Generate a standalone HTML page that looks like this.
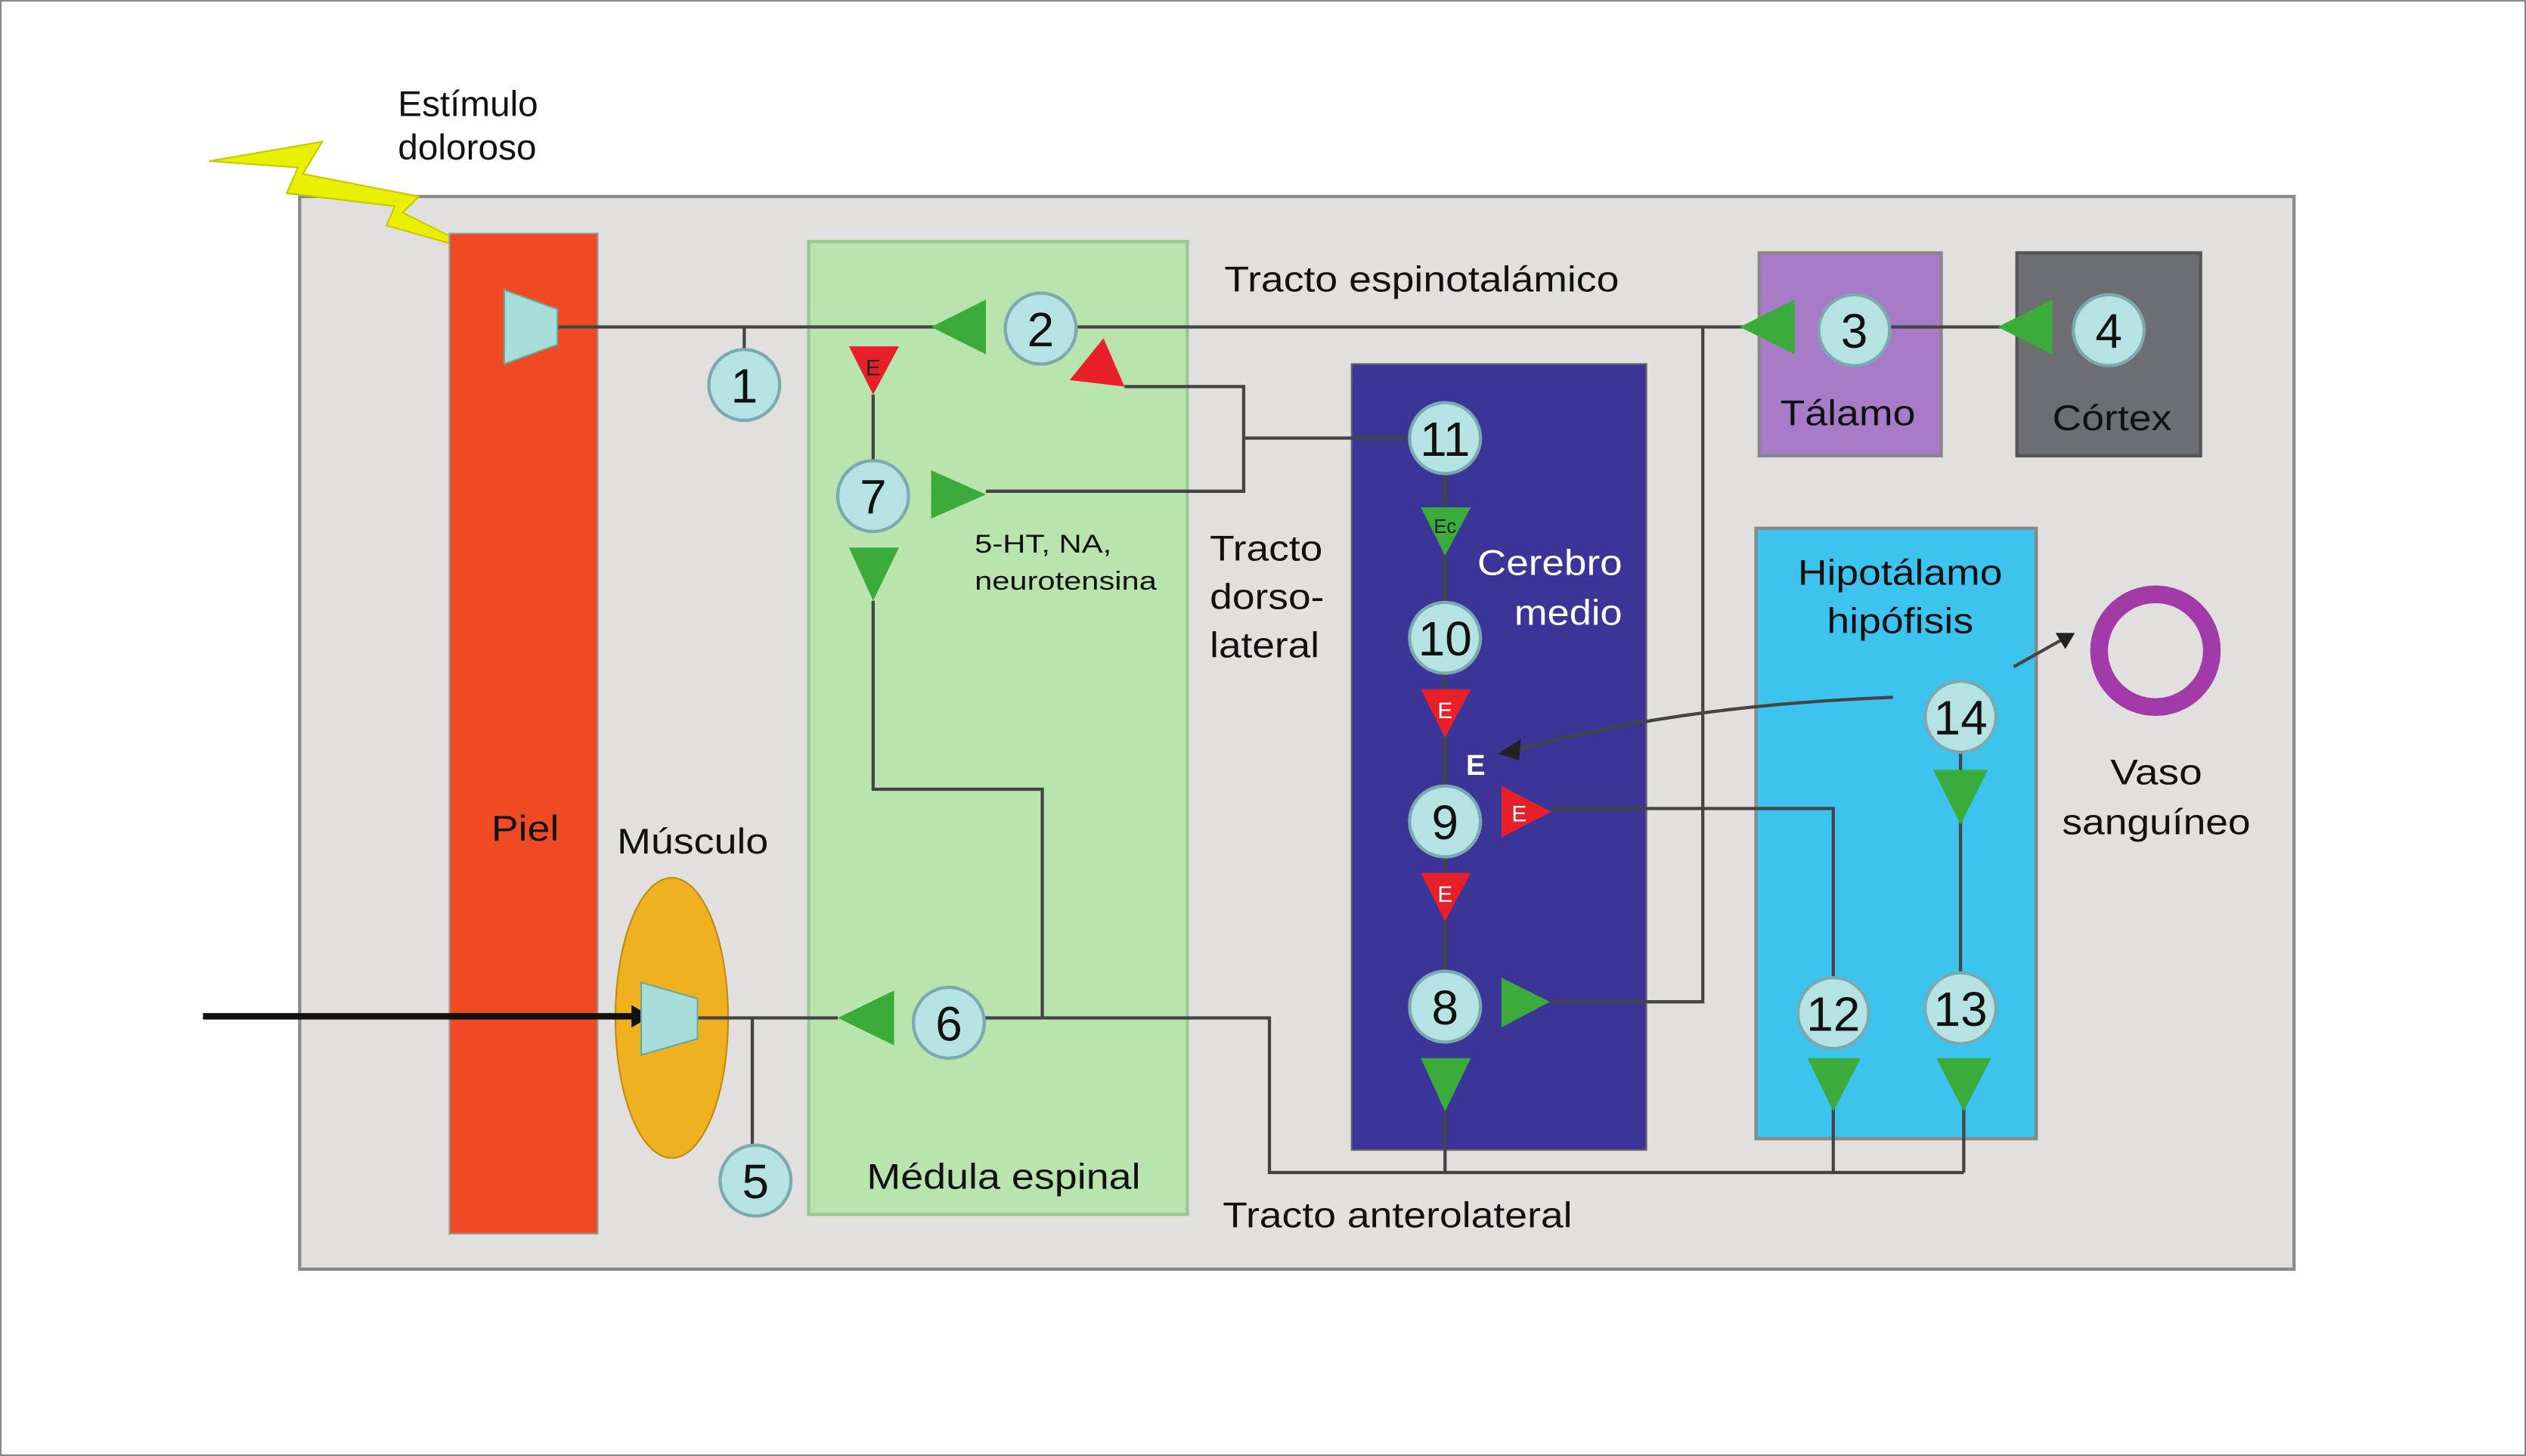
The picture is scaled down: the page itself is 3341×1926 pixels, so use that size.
<!DOCTYPE html>
<html><head><meta charset="utf-8"><style>
html,body{margin:0;padding:0;background:#fff;}
svg{display:block;}
text{font-family:"Liberation Sans",sans-serif;}
</style></head><body>
<svg width="3341" height="1926" viewBox="0 0 1568 904" preserveAspectRatio="none" xmlns="http://www.w3.org/2000/svg">
<rect x="0.5" y="0.5" width="1567" height="903" fill="#fff" stroke="#888" stroke-width="1"/>
<rect x="186" y="122" width="1238" height="666" fill="#e2e0de" stroke="#8a8a8a" stroke-width="2"/>
<polygon points="130,100 200,88 188,108 260,122 250,132 300,157 240,140 245,128 178,120 185,104" fill="#e8f000" stroke="#c8c800" stroke-width="1"/>
<rect x="279" y="145" width="92" height="621" fill="#f04a24" stroke="#999" stroke-width="1"/>
<rect x="502" y="150" width="235" height="604" fill="#b9e4ad" stroke="#98c890" stroke-width="2"/>
<rect x="839" y="226" width="183" height="488" fill="#3a3597" stroke="#666" stroke-width="1"/>
<rect x="1092" y="157" width="113" height="126" fill="#a77bc7" stroke="#888" stroke-width="2"/>
<rect x="1252" y="157" width="114" height="126" fill="#6d6e71" stroke="#555" stroke-width="2"/>
<rect x="1090" y="328" width="174" height="379" fill="#3cc3ee" stroke="#888" stroke-width="2"/>
<circle cx="1338" cy="404" r="35" fill="none" stroke="#a23aa8" stroke-width="11"/>
<ellipse cx="417" cy="632" rx="35" ry="87" fill="#f0b121" stroke="#c08a10" stroke-width="1"/>
<g stroke="#444" stroke-width="2" fill="none">
<polyline points="346,203 590,203"/>
<line x1="462" y1="203" x2="462" y2="217"/>
<polyline points="668,203 1090,203"/>
<polyline points="1172,203 1250,203"/>
<polyline points="698,240 772,240 772,305 612,305"/>
<line x1="772" y1="272" x2="875" y2="272"/>
<line x1="542" y1="245" x2="542" y2="286"/>
<polyline points="542,373 542,490 647,490 647,632"/>
<polyline points="433,632 520,632"/>
<polyline points="611,632 788,632 788,728 1219,728"/>
<line x1="467" y1="632" x2="467" y2="711"/>
<line x1="897" y1="688" x2="897" y2="728"/>
<line x1="1138" y1="688" x2="1138" y2="728"/>
<line x1="1219" y1="688" x2="1219" y2="728"/>
<polyline points="962,622 1057,622 1057,203"/>
<polyline points="963,502 1138,502 1138,607"/>
<line x1="897" y1="294" x2="897" y2="374"/>
<line x1="897" y1="418" x2="897" y2="488"/>
<line x1="897" y1="532" x2="897" y2="603"/>
<line x1="1217" y1="467" x2="1217" y2="604"/>
<path d="M1175,433 Q1040,438 940,466"/>
<line x1="1250" y1="414" x2="1282" y2="396"/>
</g>
<line x1="126" y1="631" x2="395" y2="631" stroke="#111" stroke-width="4"/>
<polygon points="392,624 404,631 392,638" fill="#111"/>
<polygon points="930,468 944,459 943,472" fill="#222"/>
<polygon points="1288,393 1276,393 1282,403" fill="#222"/>
<polygon points="313,180 346,192 346,214 313,226" fill="#a8dcd8" stroke="#6a9" stroke-width="1"/>
<polygon points="398,610 433,620 433,645 398,655" fill="#a8dcd8" stroke="#6a9" stroke-width="1"/>
<g fill="#3bab3b">
<polygon points="578,203 612,186 612,220"/>
<polygon points="1080,203 1114,186 1114,220"/>
<polygon points="1240,203 1274,186 1274,220"/>
<polygon points="578,292 612,307 578,322"/>
<polygon points="520,632 555,615 555,649"/>
<polygon points="527,340 558,340 542,373"/>
<polygon points="882,315 913,315 897,345"/>
<polygon points="882,657 913,657 897,690"/>
<polygon points="1122,657 1155,657 1138,690"/>
<polygon points="1202,657 1236,657 1219,690"/>
<polygon points="1200,478 1234,478 1217,512"/>
<polygon points="932,607 962,622 932,638"/>
</g>
<g fill="#e8202a">
<polygon points="664,236 685,210 698,240"/>
<polygon points="527,215 558,215 542,245"/>
<polygon points="882,428 913,428 897,458"/>
<polygon points="882,542 913,542 897,572"/>
<polygon points="932,488 963,504 932,520"/>
</g>
<g font-size="14" fill="#fff" text-anchor="middle">
<text x="542" y="233" fill="#222">E</text>
<text x="897" y="446">E</text>
<text x="897" y="560">E</text>
<text x="943" y="510">E</text>
<text x="897" y="331" font-size="12" fill="#222">Ec</text>
<text x="916" y="481" font-size="18" font-weight="bold">E</text>
</g>
<g fill="#b5e3e3" stroke="#7aaab0" stroke-width="2">
<circle cx="462" cy="239" r="22"/><circle cx="646" cy="204" r="22"/>
<circle cx="1151" cy="205" r="22"/><circle cx="1309" cy="205" r="22"/>
<circle cx="469" cy="733" r="22"/><circle cx="589" cy="635" r="22"/>
<circle cx="542" cy="308" r="22"/><circle cx="897" cy="625" r="22"/>
<circle cx="897" cy="510" r="22"/><circle cx="897" cy="396" r="22"/>
<circle cx="897" cy="272" r="22"/><circle cx="1138" cy="629" r="22"/>
<circle cx="1217" cy="626" r="22"/><circle cx="1217" cy="445" r="22"/>
</g>
<g font-size="30" fill="#111" text-anchor="middle">
<text x="462" y="250">1</text><text x="646" y="215">2</text>
<text x="1151" y="216">3</text><text x="1309" y="216">4</text>
<text x="469" y="744">5</text><text x="589" y="646">6</text>
<text x="542" y="319">7</text><text x="897" y="636">8</text>
<text x="897" y="521">9</text><text x="897" y="407">10</text>
<text x="897" y="283">11</text><text x="1138" y="640">12</text>
<text x="1217" y="637">13</text><text x="1217" y="456">14</text>
</g>
<g font-size="22" fill="#111">
<text x="247" y="72" textLength="87" lengthAdjust="spacingAndGlyphs">Estímulo</text>
<text x="247" y="99" textLength="86" lengthAdjust="spacingAndGlyphs">doloroso</text>
<text x="760" y="181" textLength="245" lengthAdjust="spacingAndGlyphs">Tracto espinotalámico</text>
<text x="751" y="348" textLength="70" lengthAdjust="spacingAndGlyphs">Tracto</text>
<text x="751" y="378" textLength="71" lengthAdjust="spacingAndGlyphs">dorso-</text>
<text x="751" y="408" textLength="68" lengthAdjust="spacingAndGlyphs">lateral</text>
<text x="305" y="522" textLength="42" lengthAdjust="spacingAndGlyphs">Piel</text>
<text x="383" y="530" textLength="94" lengthAdjust="spacingAndGlyphs">Músculo</text>
<text x="538" y="738" textLength="170" lengthAdjust="spacingAndGlyphs">Médula espinal</text>
<text x="759" y="762" textLength="217" lengthAdjust="spacingAndGlyphs">Tracto anterolateral</text>
<text x="1105" y="264" textLength="84" lengthAdjust="spacingAndGlyphs">Tálamo</text>
<text x="1274" y="267" textLength="74" lengthAdjust="spacingAndGlyphs">Córtex</text>
<text x="1116" y="363" textLength="127" lengthAdjust="spacingAndGlyphs">Hipotálamo</text>
<text x="1134" y="393" textLength="91" lengthAdjust="spacingAndGlyphs">hipófisis</text>
<text x="1310" y="487" textLength="57" lengthAdjust="spacingAndGlyphs">Vaso</text>
<text x="1280" y="518" textLength="117" lengthAdjust="spacingAndGlyphs">sanguíneo</text>
<text x="917" y="357" fill="#fff" textLength="90" lengthAdjust="spacingAndGlyphs">Cerebro</text>
<text x="940" y="388" fill="#fff" textLength="67" lengthAdjust="spacingAndGlyphs">medio</text>
</g>
<g font-size="16" fill="#111">
<text x="605" y="343" textLength="85" lengthAdjust="spacingAndGlyphs">5-HT, NA,</text>
<text x="605" y="366" textLength="113" lengthAdjust="spacingAndGlyphs">neurotensina</text>
</g>
</svg>
</body></html>
